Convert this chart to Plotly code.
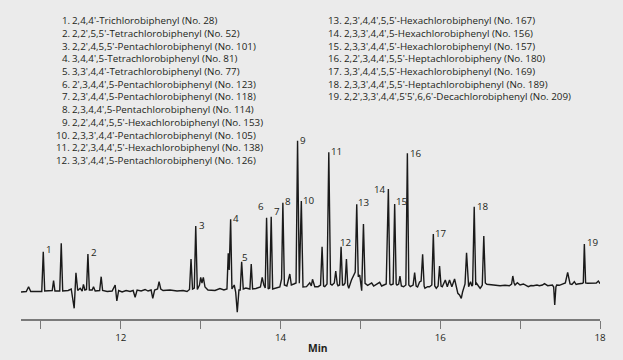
import plotly.graph_objects as go

# ---------------- data ----------------
time_min = [
    10.750, 10.816, 10.845, 10.872, 11.010, 11.029, 11.047, 11.141, 11.158, 11.175,
    11.235, 11.254, 11.272, 11.341, 11.379, 11.416, 11.438, 11.460, 11.491, 11.516,
    11.532, 11.550, 11.570, 11.588, 11.606, 11.641, 11.658, 11.679, 11.735, 11.754,
    11.772, 11.829, 11.891, 11.929, 11.950, 11.973, 12.016, 12.066, 12.116, 12.154,
    12.179, 12.204, 12.254, 12.304, 12.341, 12.379, 12.400, 12.423, 12.460, 12.479,
    12.500, 12.529, 12.616, 12.704, 12.779, 12.829, 12.860, 12.879, 12.898, 12.920,
    12.938, 12.958, 12.985, 13.000, 13.016, 13.033, 13.054, 13.091, 13.179, 13.241,
    13.291, 13.329, 13.345, 13.357, 13.375, 13.391, 13.420, 13.438, 13.458, 13.479,
    13.495, 13.513, 13.533, 13.566, 13.616, 13.633, 13.650, 13.691, 13.748, 13.770,
    13.791, 13.808, 13.825, 13.845, 13.864, 13.883, 13.901, 13.941, 13.991, 14.013,
    14.029, 14.048, 14.079, 14.116, 14.135, 14.166, 14.194, 14.213, 14.235, 14.260,
    14.281, 14.325, 14.366, 14.385, 14.400, 14.429, 14.470, 14.501, 14.520, 14.539,
    14.554, 14.582, 14.604, 14.626, 14.645, 14.673, 14.691, 14.710, 14.720, 14.739,
    14.758, 14.776, 14.791, 14.808, 14.825, 14.841, 14.854, 14.888, 14.920, 14.935,
    14.954, 14.973, 14.991, 15.016, 15.038, 15.058, 15.091, 15.141, 15.166, 15.191,
    15.241, 15.266, 15.304, 15.323, 15.350, 15.369, 15.383, 15.410, 15.429, 15.448,
    15.458, 15.479, 15.495, 15.513, 15.541, 15.569, 15.588, 15.606, 15.625, 15.660,
    15.679, 15.698, 15.716, 15.741, 15.760, 15.779, 15.798, 15.808, 15.841, 15.866,
    15.894, 15.913, 15.931, 15.950, 15.973, 15.991, 16.010, 16.025, 16.063, 16.088,
    16.116, 16.145, 16.179, 16.198, 16.220, 16.241, 16.263, 16.279, 16.291, 16.310,
    16.329, 16.348, 16.355, 16.379, 16.395, 16.405, 16.425, 16.444, 16.455, 16.478,
    16.499, 16.511, 16.526, 16.545, 16.564, 16.583, 16.649, 16.749, 16.811, 16.865,
    16.893, 16.908, 16.924, 16.936, 16.965, 16.999, 17.041, 17.074, 17.102, 17.136,
    17.164, 17.211, 17.241, 17.279, 17.304, 17.345, 17.404, 17.420, 17.433, 17.448,
    17.458, 17.491, 17.533, 17.566, 17.595, 17.616, 17.625, 17.648, 17.679, 17.701,
    17.720, 17.783, 17.791, 17.804, 17.820, 17.841, 17.908, 17.954, 17.979, 18.000,
]
signal = [
    0.0, 0.5, 5.3, 0.5, 0.5, 40.3, 1.0, 1.5, 11.3, 1.0,
    1.0, 48.7, 1.0, 1.5, 3.0, -16.3, 19.3, 1.5, 3.7, 1.0,
    7.7, 2.0, 2.5, 38.0, 2.0, 2.0, 5.3, 1.0, 1.5, 15.3,
    1.5, 0.5, 1.0, 7.0, -9.0, 1.5, 0.0, 1.5, 0.5, 1.5,
    -5.3, 2.0, 1.0, 2.5, 1.0, 2.0, -6.3, 2.0, 3.0, 10.3,
    3.0, 1.5, 2.0, 1.0, 1.5, 0.5, 2.5, 33.0, 3.0, 4.0,
    66.0, 2.5, 7.0, 14.7, 9.0, 14.7, 5.0, 2.0, 1.5, 3.5,
    2.0, 3.0, 38.7, 22.0, 72.7, 3.0, 7.0, 0.0, -20.3, 2.0,
    2.0, 30.3, 3.0, 4.0, 3.0, 28.0, 3.0, 3.5, 5.0, 14.7,
    7.0, 4.0, 74.3, 3.0, 4.0, 75.3, 3.0, 4.0, 5.0, 13.0,
    89.3, 7.0, 6.0, 18.0, 7.0, 8.0, 9.0, 151.3, 8.7, 91.0,
    5.0, 5.3, 9.3, 6.0, 12.7, 5.3, 5.3, 7.0, 45.3, 6.0,
    5.3, 8.0, 139.7, 8.0, 7.0, 9.0, 21.0, 8.0, 6.3, 7.0,
    45.3, 7.0, 7.0, 9.0, 33.0, 7.0, 3.7, 12.0, 17.0, 20.0,
    87.7, 15.3, 17.0, 1.3, 68.0, 8.7, 6.7, 9.0, 6.0, 7.0,
    9.7, 6.0, 7.0, 8.0, 103.0, 8.0, 7.0, 8.0, 88.0, 8.0,
    7.0, 8.0, 16.0, 6.0, 5.3, 7.0, 138.7, 7.0, 5.3, 7.0,
    19.3, 6.0, 5.0, 10.0, 11.0, 37.7, 6.0, 3.7, 5.3, 5.3,
    7.0, 58.0, 6.0, 3.7, 6.0, 26.0, 6.0, 5.3, 12.0, 5.3,
    12.0, 5.3, 13.0, 7.0, -1.3, -3.0, -6.3, 0.0, 3.7, 8.0,
    39.3, 7.0, 5.3, 10.3, 6.0, 7.0, 85.3, 7.0, 8.7, 6.0,
    3.7, 5.0, 7.0, 56.0, 9.0, 7.7, 7.0, 6.3, 6.7, 6.3,
    8.0, 16.0, 9.0, 7.0, 9.3, 7.0, 8.0, 6.5, 5.3, 6.5,
    6.3, 7.0, 6.3, 7.0, 8.3, 6.3, 7.0, 5.0, -13.0, 5.0,
    7.0, 6.7, 8.0, 9.0, 19.7, 9.0, 8.0, 7.5, 10.3, 7.5,
    8.0, 8.7, 9.5, 48.0, 9.0, 8.7, 8.7, 9.0, 11.0, 8.3,
]

peak_numbers = [str(i) for i in range(1, 20)]
peak_times = [11.029, 11.588, 12.938, 13.375, 13.513, 13.825, 13.883, 14.029, 14.213, 14.260,
              14.604, 14.758, 14.954, 15.350, 15.429, 15.588, 15.913, 16.425, 17.804]
peak_heights = [40.3, 38.0, 66.0, 72.7, 30.3, 74.3, 75.3, 89.3, 151.3, 91.0,
                139.7, 45.3, 87.7, 103.0, 88.0, 138.7, 58.0, 85.3, 48.0]

compound_numbers = [f"{i}." for i in range(1, 20)]
compound_names = [
    "2,4,4'-Trichlorobiphenyl (No. 28)",
    "2,2',5,5'-Tetrachlorobiphenyl (No. 52)",
    "2,2',4,5,5'-Pentachlorobiphenyl (No. 101)",
    "3,4,4',5-Tetrachlorobiphenyl (No. 81)",
    "3,3',4,4'-Tetrachlorobiphenyl (No. 77)",
    "2',3,4,4',5-Pentachlorobiphenyl (No. 123)",
    "2,3',4,4',5-Pentachlorobiphenyl (No. 118)",
    "2,3,4,4',5-Pentachlorobiphenyl (No. 114)",
    "2,2',4,4',5,5'-Hexachlorobiphenyl (No. 153)",
    "2,3,3',4,4'-Pentachlorobiphenyl (No. 105)",
    "2,2',3,4,4',5'-Hexachlorobiphenyl (No. 138)",
    "3,3',4,4',5-Pentachlorobiphenyl (No. 126)",
    "2,3',4,4',5,5'-Hexachlorobiphenyl (No. 167)",
    "2,3,3',4,4',5-Hexachlorobiphenyl (No. 156)",
    "2,3,3',4,4',5'-Hexachlorobiphenyl (No. 157)",
    "2,2',3,4,4',5,5'-Heptachlorobipheny (No. 180)",
    "3,3',4,4',5,5'-Hexachlorobiphenyl (No. 169)",
    "2,3,3',4,4',5,5'-Heptachlorobiphenyl (No. 189)",
    "2,2',3,3',4,4',5'5',6,6'-Decachlorobiphenyl (No. 209)",
]

tick_values = [11, 12, 13, 14, 15, 16, 17, 18]
tick_labels = ["", "12", "", "14", "", "16", "", "18"]
x_title = "Min"

# ---------------- styling / layout ----------------
W, H = 623, 360
ML, MR, MT, MB = 21, 23, 0, 41
PW, PH = W - ML - MR, H - MT - MB
BG = "#ebebeb"
INK = "#231f20"
FONT = "Open Sans"
FS = 9.8


def px_x(px):
    return (px - ML) / PW


def px_y(py):
    return (H - MB - py) / PH


fig = go.Figure()
fig.add_trace(go.Scatter(
    x=time_min, y=signal, mode="lines",
    line=dict(color="#1a1a1a", width=1.4),
    hoverinfo="skip", showlegend=False,
))

annotations = []

# peak labels: (x shift px, y shift px, anchor)
label_offsets = [(2.5, 2.7, "left"), (3.3, 1.3, "left"), (2.8, 1, "left"), (2.3, 1, "left"),
                 (0, 4, "left"), (-2.2, 11, "right"), (2.4, 5, "left"), (2, 1.7, "left"),
                 (2.3, 0.7, "left"), (1.5, 0.3, "left"), (2, 1.3, "left"), (-1.3, 4, "left"),
                 (1.5, 2.3, "left"), (-2.7, 0, "right"), (1.5, 3, "left"), (2.3, 0, "left"),
                 (1.3, 0.3, "left"), (3.2, 0.7, "left"), (3, 1.3, "left")]
for num, t, h, (dx, dy, anc) in zip(peak_numbers, peak_times, peak_heights, label_offsets):
    annotations.append(dict(
        x=t, y=h, xref="x", yref="y", text=num, showarrow=False,
        xanchor=anc, yanchor="middle", xshift=dx, yshift=dy,
        borderpad=0, borderwidth=0,
        font=dict(family=FONT, size=FS, color=INK),
    ))

# compound list (two columns)
line_step = 12.7
for i, (n, name) in enumerate(zip(compound_numbers, compound_names)):
    if i < 12:
        num_right, name_left, row = 69.5, 71.7, i
    else:
        num_right, name_left, row = 341.5, 344.3, i - 12
    py = 20.7 + row * line_step
    annotations.append(dict(
        x=px_x(num_right), y=px_y(py), xref="paper", yref="paper", text=n,
        showarrow=False, xanchor="right", yanchor="middle",
        borderpad=0, borderwidth=0,
        font=dict(family=FONT, size=FS, color=INK),
    ))
    annotations.append(dict(
        x=px_x(name_left), y=px_y(py), xref="paper", yref="paper", text=name,
        showarrow=False, xanchor="left", yanchor="middle",
        borderpad=0, borderwidth=0,
        font=dict(family=FONT, size=FS, color=INK),
    ))

# axis title
annotations.append(dict(
    x=px_x(318), y=px_y(348.3), xref="paper", yref="paper", text=f"<b>{x_title}</b>",
    showarrow=False, xanchor="center", yanchor="middle",
    borderpad=0, borderwidth=0,
    font=dict(family=FONT, size=FS + 0.5, color=INK),
))

fig.update_layout(
    width=W, height=H, autosize=False,
    margin=dict(l=ML, r=MR, t=MT, b=MB, pad=0),
    paper_bgcolor=BG, plot_bgcolor=BG,
    showlegend=False,
    annotations=annotations,
    xaxis=dict(
        range=[10.75, 18], showgrid=False, zeroline=False,
        showline=True, linecolor="#7a7a7a", linewidth=1.5,
        ticks="outside", ticklen=8, tickwidth=1, tickcolor="#7a7a7a",
        tickvals=tick_values, ticktext=tick_labels,
        tickfont=dict(family=FONT, size=FS, color=INK),
        fixedrange=True,
    ),
    yaxis=dict(
        range=[-27, 292], visible=False, showgrid=False, zeroline=False,
        fixedrange=True,
    ),
)

fig.write_html(
    "out.html",
    config={"displayModeBar": False},
    post_script="document.body.style.margin='0';document.body.style.overflow='hidden';"
                "document.body.style.background='#ebebeb';",
)
